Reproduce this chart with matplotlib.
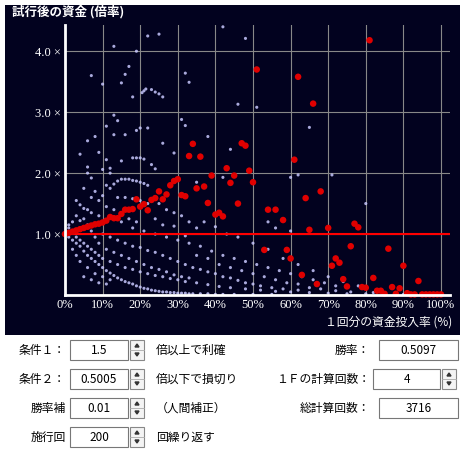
import matplotlib.pyplot as plt
from matplotlib.patches import Rectangle, Polygon

plt.rcParams['font.family'] = ['Noto Sans CJK JP', 'DejaVu Sans']

# red series: one point per ratio (%), resulting capital multiple
red_x = list(range(0, 52)) + [53, 54, 56, 58, 59, 60, 61, 62, 63, 64, 65, 66, 67, 68, 70, 71, 72, 73, 74,
                              75, 76, 77, 78, 79, 80, 81, 82, 83, 84, 85, 86, 87, 88, 89, 90, 91, 92, 93,
                              94, 95, 96, 97, 98, 99, 100]
red_y = [1.0, 1.02, 1.04, 1.06, 1.08, 1.1, 1.12, 1.14, 1.16, 1.17, 1.19, 1.22, 1.28, 1.26, 1.26, 1.33,
         1.4, 1.4, 1.41, 1.57, 1.45, 1.49, 1.39, 1.56, 1.59, 1.7, 1.57, 1.65, 1.8, 1.87, 1.9, 1.64, 1.62,
         2.28, 2.48, 1.75, 2.27, 1.78, 1.51, 1.96, 1.32, 1.35, 1.29, 2.08, 1.84, 1.96, 1.5, 2.49, 2.45,
         2.04, 1.85, 3.7,
         0.74, 1.4, 1.4, 1.23, 0.74, 0.6, 2.22, 3.58, 0.33, 1.59, 1.07, 3.14, 0.18, 1.7, 1.1, 0.48, 0.6,
         0.53, 0.26, 0.14, 0.8, 1.17, 1.11, 0.13, 0.12, 4.18, 0.28, 0.07, 0.07, 0.02, 0.76, 0.13, 0.02,
         0.11, 0.48, 0.03, 0.01, 0.01, 0.23, 0.01, 0.01, 0.01, 0.01, 0.01, 0.01]

# white cloud: individual trials
white_pts = [
    (41, 4.72), (42, 4.4), (57, 4.65), (16.9, 4.47), (25, 4.28), (13, 4.08), (22, 4.25), (19, 4.0),
    (48, 4.21), (7, 3.6), (17, 3.75), (16, 3.62), (10, 3.46), (15, 3.48), (32, 3.64), (33, 3.49),
    (21, 3.35), (20.5, 3.32), (21.5, 3.38), (23, 3.37), (24, 3.33), (25, 3.3), (26, 3.25), (18, 3.25),
    (46, 3.13), (51, 3.08), (65, 2.75), (13, 2.95), (14, 2.86), (31, 2.88), (32, 2.78), (11, 2.77),
    (20, 2.74), (22, 2.74), (19, 2.7), (13, 2.63), (16, 2.63), (6, 2.53), (8, 2.6), (38, 2.6),
    (34, 2.48), (26, 2.49), (44, 2.39), (4, 2.31), (9, 2.34), (29, 2.33), (36, 2.29), (11, 2.22),
    (15, 2.2), (18, 2.25), (19, 2.25), (20, 2.25), (21, 2.23), (23, 2.14), (24, 2.07), (6, 2.1),
    (10, 2.06), (12, 2.0), (12, 2.08), (6, 2.0), (7, 1.92), (62, 1.97), (71, 1.97), (14, 1.87),
    (15, 1.9), (16, 1.9), (17, 1.9), (18, 1.88), (19, 1.87), (20, 1.85), (21, 1.83), (22, 1.8),
    (35, 1.85), (42, 1.93), (60, 1.93), (13, 1.82), (11, 1.8), (12, 1.75), (5, 1.75), (8, 1.7),
    (10, 1.63), (14, 1.6), (16, 1.6), (18, 1.58), (20, 1.55), (22, 1.5), (25, 1.5), (27, 1.4),
    (29, 1.35), (31, 1.3), (33, 1.2), (35, 1.1), (80, 1.5), (3, 1.55), (4, 1.48), (5, 1.42), (6, 1.4),
    (7, 1.35), (9, 1.3), (3, 1.3), (4, 1.22), (2, 1.2), (1, 1.15), (1, 1.1), (2, 1.05), (3, 0.95),
    (4, 0.9), (5, 0.85), (6, 0.8), (7, 0.75), (8, 0.7), (9, 0.65), (10, 0.6), (12, 0.55), (14, 0.5),
    (16, 0.45), (18, 0.42), (20, 0.38), (22, 0.35), (24, 0.32), (26, 0.3), (28, 0.27), (30, 0.25),
    (32, 0.22), (35, 0.2), (38, 0.17), (41, 0.14), (44, 0.12), (48, 0.1), (52, 0.08), (56, 0.06),
    (60, 0.05), (65, 0.04), (70, 0.03), (75, 0.02), (80, 0.02), (85, 0.01), (90, 0.01), (95, 0.01),
    (100, 0.01), (10, 1.0), (12, 0.95), (14, 0.9), (16, 0.85), (18, 0.8), (20, 0.78), (22, 0.73),
    (24, 0.7), (26, 0.65), (28, 0.6), (30, 0.55), (32, 0.5), (34, 0.45), (36, 0.42), (38, 0.38),
    (40, 0.35), (42, 0.3), (44, 0.28), (46, 0.24), (48, 0.2), (50, 0.18), (15, 1.2), (18, 1.1),
    (21, 1.05), (24, 1.0), (27, 0.95), (30, 0.9), (33, 0.85), (36, 0.8), (39, 0.72), (42, 0.65),
    (45, 0.6), (48, 0.55), (51, 0.5), (54, 0.45), (57, 0.4), (60, 0.35), (63, 0.3), (66, 0.25),
    (69, 0.2), (72, 0.15), (29, 1.13), (32, 0.97), (37, 1.2), (40, 1.12), (43, 1.0), (46, 0.95),
    (50, 0.85), (54, 0.75), (58, 0.6), (62, 0.5), (66, 0.4), (70, 0.3), (74, 0.22), (78, 0.15),
    (54, 1.2), (56, 1.1), (60, 1.05), (52, 0.15), (55, 0.12), (58, 0.1), (62, 0.08),
    (1, 0.95), (2, 0.9), (3, 0.85), (4, 0.8), (5, 0.72), (6, 0.65), (7, 0.6), (8, 0.55), (9, 0.5),
    (10, 0.45), (11, 0.4), (12, 0.36), (13, 0.32), (14, 0.28), (15, 0.25), (16, 0.22), (17, 0.2),
    (18, 0.18), (19, 0.15), (20, 0.13), (21, 0.11), (22, 0.1), (23, 0.08), (24, 0.07), (25, 0.06),
    (26, 0.05), (27, 0.05), (28, 0.04), (29, 0.04), (30, 0.03), (31, 0.03), (32, 0.03), (33, 0.02),
    (34, 0.02), (36, 0.02), (38, 0.02), (40, 0.01), (42, 0.01), (45, 0.01), (50, 0.01), (55, 0.01),
    (5, 0.3), (7, 0.25), (9, 0.2), (11, 0.18), (8, 0.35), (10, 0.3), (12, 0.25), (6, 0.45),
    (4, 0.55), (3, 0.65), (2, 0.75), (15, 0.65), (17, 0.6), (19, 0.55), (21, 0.5), (23, 0.45),
    (25, 0.42), (27, 0.38), (29, 0.33), (31, 0.3), (33, 0.28), (13, 0.7), (11, 0.75), (9, 0.85),
    (8, 0.95), (7, 1.05), (6, 1.15), (5, 1.25), (11, 1.45), (13, 1.4), (9, 1.55), (7, 1.6),
    (17, 1.25), (19, 1.2), (24, 1.25), (26, 1.15), (35, 0.65), (38, 0.6), (41, 0.5), (44, 0.45),
    (47, 0.4), (50, 0.35), (53, 0.3), (56, 0.25), (59, 0.2), (62, 0.18), (65, 0.12), (68, 0.1),
    (72, 0.07), (76, 0.05), (82, 0.04), (88, 0.03), (93, 0.02), (97, 0.02),
]
wx = [p[0] for p in white_pts]
wy = [p[1] for p in white_pts]

x_ticks = list(range(0, 101, 10))
x_labels = [f"{t}%" for t in x_ticks]
y_ticks = [1.0, 2.0, 3.0, 4.0]
y_labels = [f"{t:.1f} ×" for t in y_ticks]

W = 465.0
fig = plt.figure(figsize=(4.65, 4.65), dpi=100)
fig.patch.set_facecolor('white')


def fx(px):
    return px / W


def fy(py):
    return 1 - py / W


# dark panel as a background axes
bg = fig.add_axes([fx(5), fy(335), 455 / W, 330 / W])
bg.set_facecolor('#02021f')
bg.set_xticks([])
bg.set_yticks([])
for s in bg.spines.values():
    s.set_visible(False)
bg.set_zorder(0)

ax = fig.add_axes([fx(65), fy(295), (450 - 65) / W, (295 - 25) / W])
ax.set_zorder(1)
ax.set_facecolor('none')
ax.set_xlim(0, 102.4)
ax.set_ylim(0, 4.43)
for t in x_ticks[1:]:
    ax.axvline(t, color='#888888', lw=0.8, zorder=1)
for t in y_ticks:
    ax.axhline(t, color='#888888', lw=0.8, zorder=1)
ax.scatter(wx, wy, s=5, color='#c8c8ff', alpha=0.85, edgecolors='none', zorder=2)
ax.axhline(1.0, color='#ff0000', lw=1.5, zorder=3)
ax.scatter(red_x, red_y, s=22, color='#e00000', edgecolors='none', zorder=4, clip_on=False)

for s in ['top', 'right']:
    ax.spines[s].set_visible(False)
for s in ['left', 'bottom']:
    ax.spines[s].set_color('white')
    ax.spines[s].set_linewidth(2)
    ax.spines[s].set_zorder(5)
ax.set_xticks(x_ticks)
ax.set_xticklabels(x_labels, family=['Liberation Serif', 'DejaVu Serif'])
ax.set_yticks(y_ticks)
ax.set_yticklabels(y_labels, family=['Liberation Serif', 'DejaVu Serif'])
ax.tick_params(colors='white', labelsize=9, length=0, pad=3)

fig.text(fx(12), fy(12), "試行後の資金 (倍率)", color='white', fontsize=9, fontweight='bold',
         va='center', ha='left', zorder=5)
fig.text(fx(452), fy(322), "１回分の資金投入率 (%)", color='white', fontsize=8.5,
         va='center', ha='right', zorder=5)

# control panel
def spinbox(x0, x1, yc, val, spin=True):
    fig.patches.append(Rectangle((fx(x0), fy(yc + 10)), (x1 - x0) / W, 20 / W, transform=fig.transFigure,
                                 facecolor='white', edgecolor='#777777', lw=0.8))
    fig.text(fx((x0 + x1) / 2), fy(yc), val, fontsize=8.5, ha='center', va='center')
    if spin:
        sx = x1 + 2
        fig.patches.append(Rectangle((fx(sx), fy(yc + 10)), 14 / W, 20 / W, transform=fig.transFigure,
                                     facecolor='#f4f4f4', edgecolor='#888888', lw=0.8))
        fig.lines.append(plt.Line2D([fx(sx), fx(sx + 14)], [fy(yc), fy(yc)], transform=fig.transFigure,
                                    color='#aaaaaa', lw=0.6))
        fig.patches.append(Polygon([(fx(sx + 5), fy(yc - 3)), (fx(sx + 9), fy(yc - 3)), (fx(sx + 7), fy(yc - 6))],
                                   transform=fig.transFigure, color='#333333'))
        fig.patches.append(Polygon([(fx(sx + 5), fy(yc + 3)), (fx(sx + 9), fy(yc + 3)), (fx(sx + 7), fy(yc + 6))],
                                   transform=fig.transFigure, color='#333333'))


rows = [350, 379, 408, 437]
left_labels = ["条件１：", "条件２：", "勝率補", "施行回"]
left_vals = ["1.5", "0.5005", "0.01", "200"]
left_after = ["倍以上で利確", "倍以下で損切り", "（人間補正）", "回繰り返す"]
for yc, lab, v, aft in zip(rows, left_labels, left_vals, left_after):
    fig.text(fx(66), fy(yc), lab, fontsize=8.5, ha='right', va='center')
    spinbox(70, 128, yc, v)
    fig.text(fx(156), fy(yc), aft, fontsize=8.5, ha='left', va='center')

fig.text(fx(370), fy(rows[0]), "勝率：", fontsize=8.5, ha='right', va='center')
spinbox(379, 458, rows[0], "0.5097", spin=False)
fig.text(fx(370), fy(rows[1]), "１Ｆの計算回数：", fontsize=8.5, ha='right', va='center')
spinbox(373, 440, rows[1], "4")
fig.text(fx(370), fy(rows[2]), "総計算回数：", fontsize=8.5, ha='right', va='center')
spinbox(379, 458, rows[2], "3716", spin=False)

fig.savefig('out.png', dpi=100, facecolor='white')
